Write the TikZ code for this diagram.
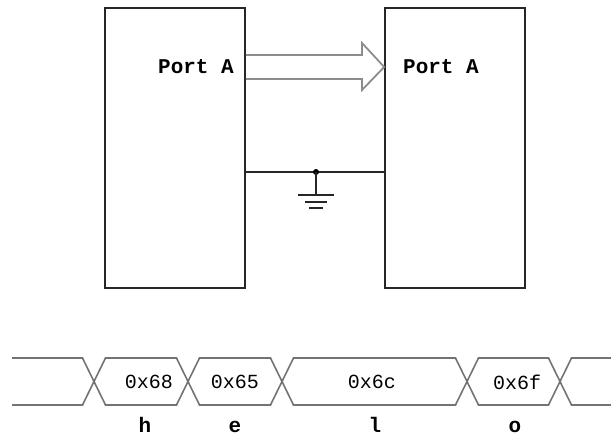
\documentclass[tikz,border=0pt]{standalone}
\usepackage{fontspec}
\setmonofont{Liberation Mono}
\usetikzlibrary{calc}
\begin{document}
\begin{tikzpicture}[x=1pt,y=-1pt,
  chip/.style={draw=black!85,line width=1.6pt,minimum width=140pt,minimum height=280pt,inner sep=0pt},
  portlbl/.style={font=\ttfamily\bfseries\fontsize{21}{22}\selectfont,inner sep=0pt},
  hexlbl/.style={font=\ttfamily\fontsize{20}{22}\selectfont,inner sep=0pt},
  chrlbl/.style={font=\ttfamily\bfseries\fontsize{21}{22}\selectfont,inner sep=0pt},
  busarrow/.style={draw=black!45,line width=1.8pt,line join=miter},
  wire/.style={draw=black!85,line width=1.4pt},
  sig/.style={draw=black!55,line width=1.6pt}]
\useasboundingbox (0,0) rectangle (611,436);
\node[chip] (L) at (175,148) {};
\node[chip] (R) at (455,148) {};
\node[portlbl] (pa1) at (196,67) {Port A};
\node[portlbl] (pa2) at (441,67) {Port A};
% hollow bus arrow
\draw[busarrow] (L.east |- 0,55) -- (362,55) -- (362,43) -- (R.west |- 0,67) -- (362,90) -- (362,79) -- (L.east |- 0,79);
% ground connection
\coordinate (g) at (316,172);
\draw[wire] (L.east |- g) -- (R.west |- g);
\fill[black] (g) circle (3pt);
\coordinate (gb) at (316,195);
\draw[wire] (g) -- (gb);
\draw[wire] ($(gb)+(-18,0)$) -- ($(gb)+(18,0)$);
\draw[wire] ($(gb)+(-11,7)$) -- ($(gb)+(11,7)$);
\draw[wire] ($(gb)+(-7,13)$) -- ($(gb)+(7,13)$);
% timing diagram
\draw[sig] (12,358) -- (82.5,358) -- (105.5,405) -- (176.5,405) -- (199.5,358) -- (270.5,358) -- (293.5,405) -- (455.5,405) -- (478.5,358) -- (548.5,358) -- (571.5,405) -- (611,405);
\draw[sig] (12,405) -- (82.5,405) -- (105.5,358) -- (176.5,358) -- (199.5,405) -- (270.5,405) -- (293.5,358) -- (455.5,358) -- (478.5,405) -- (548.5,405) -- (571.5,358) -- (611,358);
\node[hexlbl] (h1) at (149,382) {0x68};
\node[hexlbl] (h2) at (235,382) {0x65};
\node[hexlbl] (h3) at (372,382) {0x6c};
\node[hexlbl] (h4) at (517,382) {0x6f};
\node[chrlbl,anchor=base] (c1) at (145,432) {h};
\node[chrlbl,anchor=base] (c2) at (235,432) {e};
\node[chrlbl,anchor=base] (c3) at (375,432) {l};
\node[chrlbl,anchor=base] (c4) at (515,432) {o};
\end{tikzpicture}
\end{document}
